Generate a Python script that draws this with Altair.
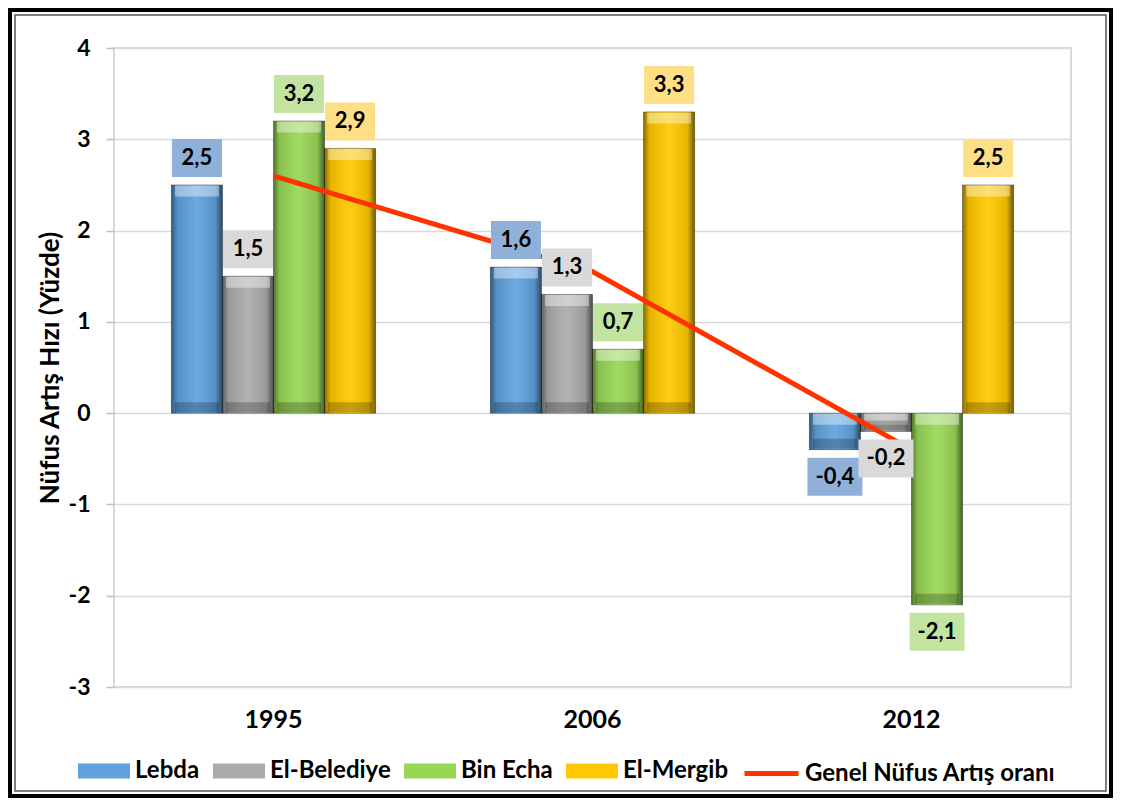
import altair as alt
import pandas as pd

years = ["1995", "2006", "2012"]
series = ["Lebda", "El-Belediye", "Bin Echa", "El-Mergib"]
lebda = [2.5, 1.6, -0.4]
belediye = [1.5, 1.3, -0.2]
bin_echa = [3.2, 0.7, -2.1]
el_mergib = [2.9, 3.3, 2.5]
genel = [2.6, 1.55, -0.4]
line_name = "Genel Nüfus Artış oranı"
y_title = "Nüfus Artış Hızı (Yüzde)"
y_ticks = [-3, -2, -1, 0, 1, 2, 3, 4]

bar_colors = ["#5FA2DE", "#ABABAB", "#98D656", "#FFC800"]
box_colors = ["#8FB0D9", "#D9D9D9", "#C3E4A0", "#FFDF85"]
line_color = "#FF3300"
FONT = "Lato"

rows = []
for s, vals in zip(series, [lebda, belediye, bin_echa, el_mergib]):
    for yr, v in zip(years, vals):
        rows.append({"year": yr, "series": s, "value": v,
                     "lbl": f"{v:.1f}".replace(".", ",")})
df = pd.DataFrame(rows)
line_df = pd.DataFrame({"year": years, "value": genel, "name": line_name})

W, H = 957, 639
PAD = {"left": 106, "top": 40, "right": 42, "bottom": 111}

x_enc = alt.X("year:N", sort=years,
              scale=alt.Scale(domain=years, paddingInner=0.36, paddingOuter=0.18),
              axis=alt.Axis(title=None, labelAngle=0, ticks=False, domain=False, grid=False,
                            labelFont=FONT, labelFontSize=25, labelFontWeight="bold",
                            labelColor="black", labelPadding=20))
xo_enc = alt.XOffset("series:N", sort=series,
                     scale=alt.Scale(domain=series, paddingInner=0, paddingOuter=0))
y_enc = alt.Y("value:Q", scale=alt.Scale(domain=[-3, 4], nice=False),
              axis=alt.Axis(values=y_ticks, title=y_title, labelExpr="'' + datum.value",
                            labelFont=FONT, labelFontSize=23, labelFontWeight="bold",
                            labelColor="black", labelPadding=16, tickSize=8,
                            tickColor="#BFBFBF", tickWidth=1.5, domain=False,
                            gridColor="#D9D9D9", gridWidth=1.5,
                            titleFont=FONT, titleFontSize=26, titleFontWeight="bold",
                            titleColor="black", titlePadding=5))

bar_path = "M-1,-0.29L1,-0.29L1,0.29L-1,0.29Z"

bars = alt.Chart(df).mark_bar().encode(
    x=x_enc, xOffset=xo_enc, y=y_enc,
    color=alt.Color("series:N", sort=series,
                    scale=alt.Scale(domain=series, range=bar_colors),
                    legend=alt.Legend(orient="none", legendX=-36, legendY=697,
                                      direction="horizontal", columns=4, title=None,
                                      symbolType=bar_path, symbolSize=2704,
                                      symbolStrokeWidth=0, labelFont=FONT,
                                      labelFontSize=24, labelFontWeight="bold",
                                      labelColor="black", labelOffset=5,
                                      columnPadding=13, padding=0, labelLimit=400)),
)

shade = alt.Gradient(
    gradient="linear", x1=0, x2=1, y1=0, y2=0,
    stops=[alt.GradientStop(color="rgba(0,0,0,0.45)", offset=0),
           alt.GradientStop(color="rgba(0,0,0,0.10)", offset=0.12),
           alt.GradientStop(color="rgba(255,255,255,0.08)", offset=0.5),
           alt.GradientStop(color="rgba(0,0,0,0.10)", offset=0.86),
           alt.GradientStop(color="rgba(0,0,0,0.55)", offset=1)])
bars_shade = alt.Chart(df).mark_bar(fill=shade, stroke="rgba(0,0,0,0.35)", strokeWidth=1).encode(
    x=x_enc, xOffset=xo_enc, y=y_enc)

cap_light = alt.Chart(df).transform_calculate(top="max(datum.value, 0)").mark_tick(
    thickness=11, size=44, color="rgba(255,255,255,0.40)", yOffset=6, opacity=1).encode(
    x=x_enc, xOffset=xo_enc, y=alt.Y("top:Q"))
cap_dark = alt.Chart(df).transform_calculate(bot="min(datum.value, 0)").mark_tick(
    thickness=10, size=44, color="rgba(0,0,0,0.22)", yOffset=-6, opacity=1).encode(
    x=x_enc, xOffset=xo_enc, y=alt.Y("bot:Q"))

line = alt.Chart(line_df).mark_line(strokeWidth=5).encode(
    x=alt.X("year:N", sort=years), y="value:Q",
    stroke=alt.Stroke("name:N", scale=alt.Scale(domain=[line_name], range=[line_color]),
                      legend=alt.Legend(orient="none", legendX=628, legendY=696, title=None,
                                        symbolType="stroke", symbolSize=2916,
                                        symbolStrokeWidth=5, labelFont=FONT,
                                        labelFontSize=24, labelFontWeight="bold",
                                        labelColor="black", labelOffset=4, padding=0,
                                        labelLimit=400)))

box_pos = "M-1,-0.76L1,-0.76L1,0.76L-1,0.76Z"
box_neg = "M-1,-0.69L1,-0.69L1,0.69L-1,0.69Z"
box_fill = alt.Fill("series:N", sort=series, scale=alt.Scale(domain=series, range=box_colors),
                    legend=None)

boxes_pos = alt.Chart(df).transform_filter("datum.value >= 0").mark_point(
    shape=box_pos, size=2500, filled=True, opacity=1, strokeWidth=0, yOffset=-27).encode(
    x=x_enc, xOffset=xo_enc, y=y_enc, fill=box_fill)
boxes_neg = alt.Chart(df).transform_filter("datum.value < 0").mark_point(
    shape=box_neg, size=3025, filled=True, opacity=1, strokeWidth=0, yOffset=27).encode(
    x=x_enc, xOffset=xo_enc, y=y_enc, fill=box_fill)

text_pos = alt.Chart(df).transform_filter("datum.value >= 0").mark_text(
    font=FONT, fontSize=22, fontWeight="bold", color="black", baseline="middle",
    yOffset=-27).encode(x=x_enc, xOffset=xo_enc, y=y_enc, text="lbl:N")
text_neg = alt.Chart(df).transform_filter("datum.value < 0").mark_text(
    font=FONT, fontSize=22, fontWeight="bold", color="black", baseline="middle",
    yOffset=27).encode(x=x_enc, xOffset=xo_enc, y=y_enc, text="lbl:N")

frame_df = pd.DataFrame({"k": [0]})
frame_outer = alt.Chart(frame_df).mark_rect(filled=False, stroke="black", strokeWidth=4).encode(
    x=alt.value(-104), x2=alt.value(W + PAD["right"] - 2),
    y=alt.value(-PAD["top"] + 2), y2=alt.value(H + PAD["bottom"] - 2))
frame_inner = alt.Chart(frame_df).mark_rect(filled=False, stroke="#555555", strokeWidth=1.5).encode(
    x=alt.value(-99), x2=alt.value(W + PAD["right"] - 7),
    y=alt.value(-PAD["top"] + 7), y2=alt.value(H + PAD["bottom"] - 7))

chart = alt.layer(
    bars, bars_shade, cap_light, cap_dark, line, boxes_pos, boxes_neg, text_pos, text_neg,
    frame_outer, frame_inner
).resolve_scale(color="independent", fill="independent", stroke="independent").properties(
    width=W, height=H, padding=PAD, autosize=alt.AutoSizeParams(type="none"),
    background="white"
).configure_view(stroke="#D9D9D9", strokeWidth=2)

chart.save("out.html", embed_options={"renderer": "svg", "actions": False})
